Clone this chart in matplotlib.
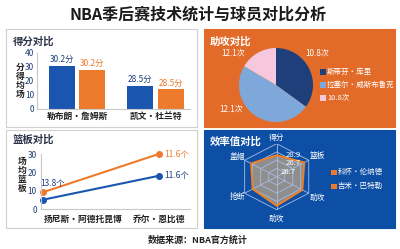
import numpy as np
import matplotlib
matplotlib.use('Agg')
import matplotlib.pyplot as plt
from matplotlib.patches import Rectangle, Polygon

plt.rcParams['font.family'] = ['Noto Sans CJK SC', 'DejaVu Sans']

# 得分对比
score_players = ['勒布朗·詹姆斯', '凯文·杜兰特']
score_blue = [31.0, 16.5]
score_orange = [28.0, 14.0]
score_blue_labels = ['30.2分', '28.5分']
score_orange_labels = ['30.2分', '28.5分']
score_ylabel = '分得均场'

# 助攻对比
assist_names = ['斯蒂芬·库里', '拉塞尔·威斯布鲁克', '10.8次']
assist_share = [35.0, 48.5, 16.5]
assist_labels = ['10.8次', '12.1次', '12.1次']

# 篮板对比
reb_players = ['扬尼斯·阿德托昆博', '乔尔·恩比德']
reb_orange = [9.2, 30.0]
reb_blue = [5.1, 18.1]
reb_orange_labels = ['13.8个', '11.6个']
reb_blue_labels = ['', '11.6个']
reb_ylabel = '场均篮板'

# 效率值对比
radar_axes = ['得分', '篮板', '助攻', '助攻', '抢断', '盖帽']
radar_values = [26.0, 34.4, 32.0, 35.2, 30.0, 32.0]
radar_max = 40.0
radar_names = ['科怀·伦纳德', '吉米·巴特勒']
radar_texts = ['28.9', '26.7', '26.7']

BLUE = '#1A56B0'
ORANGE = '#EE7A2C'
NAVY = '#1F3F7A'
DARK = '#2B3348'

W, H = 400, 249
fig = plt.figure(figsize=(4, 2.49), dpi=100)
fig.patch.set_facecolor('white')


def box(x0, y0, x1, y1):
    return [x0 / W, 1 - y1 / H, (x1 - x0) / W, (y1 - y0) / H]


def panel(x0, y0, x1, y1, fc, ec):
    r = Rectangle((x0 / W, 1 - y1 / H), (x1 - x0) / W, (y1 - y0) / H,
                  transform=fig.transFigure, facecolor=fc, edgecolor=ec, lw=0.8, zorder=-10)
    fig.patches.append(r)


def ftext(x, y, s, **kw):
    fig.text(x / W, 1 - y / H, s, **kw)


def vtext(x, y_top, s, step=9.3):
    # stacked upright characters
    for i, ch in enumerate(s):
        ftext(x, y_top + i * step, ch, ha='center', va='center', fontsize=6.3,
              fontweight='bold', color='#222222')


ftext(198, 15, 'NBA季后赛技术统计与球员对比分析', ha='center', va='center',
      fontsize=11.5, fontweight='bold', color='#1a1a1a')
ftext(198, 240, '数据来源：NBA官方统计', ha='center', va='center',
      fontsize=6.5, fontweight='bold', color='#222222')

panel(6, 29, 197, 127, 'white', '#d0d0d0')
panel(204, 29, 395, 127, '#E26B2A', '#E26B2A')
panel(6, 130, 197, 228, 'white', '#d0d0d0')
panel(204, 130, 395, 228, '#0E4FA6', '#0E4FA6')

ftext(13, 42, '得分对比', ha='left', va='center', fontsize=7.5, fontweight='bold', color=DARK)
ftext(210, 42, '助攻对比', ha='left', va='center', fontsize=7.5, fontweight='bold', color='white')
ftext(13, 140, '篮板对比', ha='left', va='center', fontsize=7.5, fontweight='bold', color=DARK)
ftext(210, 142, '效率值对比', ha='left', va='center', fontsize=7.5, fontweight='bold', color='white')

# bar chart
ax1 = fig.add_axes(box(37, 53, 190, 109))
x = np.arange(len(score_players))
w = 0.33
b1 = ax1.bar(x - 0.195, score_blue, w, color=BLUE)
b2 = ax1.bar(x + 0.195, score_orange, w, color=ORANGE)
for rect, lab in zip(b1, score_blue_labels):
    ax1.text(rect.get_x() + rect.get_width() / 2, rect.get_height() + 1.2, lab,
             ha='center', va='bottom', fontsize=6, color=NAVY)
for rect, lab in zip(b2, score_orange_labels):
    ax1.text(rect.get_x() + rect.get_width() / 2, rect.get_height() + 1.2, lab,
             ha='center', va='bottom', fontsize=6, color=ORANGE)
ax1.set_xlim(-0.51, 1.44)
ax1.set_ylim(0, 40)
ax1.set_yticks([0, 10, 20, 30, 40])
ax1.set_xticks(x)
ax1.set_xticklabels(score_players, fontsize=6.3, fontweight='bold', color='#222222')
ax1.tick_params(axis='y', labelsize=6, colors=NAVY, length=0, pad=2)
ax1.tick_params(axis='x', length=0, pad=2)
for s in ['top', 'right']:
    ax1.spines[s].set_visible(False)
for s in ['left', 'bottom']:
    ax1.spines[s].set_color('#c8c8c8')
    ax1.spines[s].set_linewidth(0.8)
ax1.set_facecolor('none')
vtext(20, 67, score_ylabel)

# pie chart
pie_colors = [NAVY, '#7FA8DA', '#F7C7DD']
ax2 = fig.add_axes(box(239, 48, 313, 122))
ax2.pie(assist_share, colors=pie_colors, startangle=90,
        counterclock=False, radius=1.0)
ax2.set_xlim(-1, 1)
ax2.set_ylim(-1, 1)
ax2.set_aspect('equal')
ftext(317, 53, assist_labels[0], ha='center', va='center', fontsize=5.8, color='white')
ftext(233, 53, assist_labels[1], ha='center', va='center', fontsize=5.8, color='white')
ftext(231, 109, assist_labels[2], ha='center', va='center', fontsize=5.8, color='white')
for i, (nm, c) in enumerate(zip(assist_names, pie_colors)):
    yy = 72 + i * 13
    fig.patches.append(Rectangle((320 / W, 1 - (yy + 3) / H), 5.5 / W, 5.5 / H,
                                 transform=fig.transFigure, facecolor=c, edgecolor='none'))
    ftext(327, yy, nm, ha='left', va='center', fontsize=5.4, color='white')

# line chart
ax3 = fig.add_axes(box(41, 154, 190, 209))
xl = np.arange(len(reb_players))
ax3.plot(xl, reb_orange, color=ORANGE, lw=1.5, marker='o', ms=4, clip_on=False)
ax3.plot(xl, reb_blue, color=BLUE, lw=1.5, marker='o', ms=4, clip_on=False)
ax3.set_xlim(-0.02, 1.27)
ax3.set_ylim(0, 30)
ax3.set_yticks([0, 10, 20, 30])
ax3.set_xticks([0.345, 1.0])
ax3.set_xticklabels(reb_players, fontsize=6.3, fontweight='bold', color='#222222')
ax3.tick_params(axis='y', labelsize=6, colors=NAVY, length=0, pad=3)
ax3.tick_params(axis='x', length=0, pad=4)
for s in ['top', 'right']:
    ax3.spines[s].set_visible(False)
for s in ['left', 'bottom']:
    ax3.spines[s].set_color('#c8c8c8')
    ax3.spines[s].set_linewidth(0.8)
ax3.set_facecolor('none')
ax3.text(xl[0] + 0.08, reb_orange[0] + 2.5, reb_orange_labels[0], ha='center', va='bottom',
         fontsize=6, color=NAVY)
ax3.text(xl[1] + 0.05, reb_orange[1], reb_orange_labels[1], ha='left', va='center',
         fontsize=6, color=ORANGE, clip_on=False)
ax3.text(xl[1] + 0.05, reb_blue[1], reb_blue_labels[1], ha='left', va='center',
         fontsize=6, color=NAVY, clip_on=False)
vtext(22, 161, reb_ylabel)

# radar chart
ax4 = fig.add_axes(box(239.7, 143.7, 313.7, 209.7))
ax4.set_xlim(-1, 1)
ax4.set_ylim(-1, 1)
ax4.axis('off')
n = len(radar_axes)
ang = np.pi / 2 - np.arange(n) * 2 * np.pi / n
vals = np.array(radar_values) / radar_max
poly = np.column_stack([vals * np.cos(ang), vals * np.sin(ang)])
ax4.add_patch(Polygon(poly, closed=True, facecolor='#8E8E8E', edgecolor='none', zorder=1))
for r in [0.25, 0.5, 0.75, 1.0]:
    ring = np.column_stack([r * np.cos(ang), r * np.sin(ang)])
    ax4.add_patch(Polygon(ring, closed=True, fill=False, edgecolor='#A9BCE0', lw=0.6, zorder=2))
for a in ang:
    ax4.plot([0, np.cos(a)], [0, np.sin(a)], color='#A9BCE0', lw=0.6, zorder=2)
ax4.add_patch(Polygon(poly, closed=True, fill=False, edgecolor='#F28020', lw=1.4, zorder=3))
label_k = [1.17, 1.28, 1.28, 1.28, 1.22, 1.22]
for a, lab, k in zip(ang, radar_axes, label_k):
    ax4.text(k * np.cos(a), k * np.sin(a), lab, ha='center', va='center',
             fontsize=5.6, color='white', clip_on=False)
text_pos = [(0.45, 0.66), (0.45, 0.41), (0.3, 0.15)]
for (tx, ty), t in zip(text_pos, radar_texts):
    ax4.text(tx, ty, t, ha='center', va='center', fontsize=5.6, color='white', zorder=4)
for i, nm in enumerate(radar_names):
    yy = 172 + i * 14
    fig.patches.append(Rectangle((331 / W, 1 - (yy + 3) / H), 5.5 / W, 5.5 / H,
                                 transform=fig.transFigure, facecolor=ORANGE, edgecolor='none'))
    ftext(338, yy, nm, ha='left', va='center', fontsize=5.4, color='white')

fig.savefig('out.png', dpi=100)
